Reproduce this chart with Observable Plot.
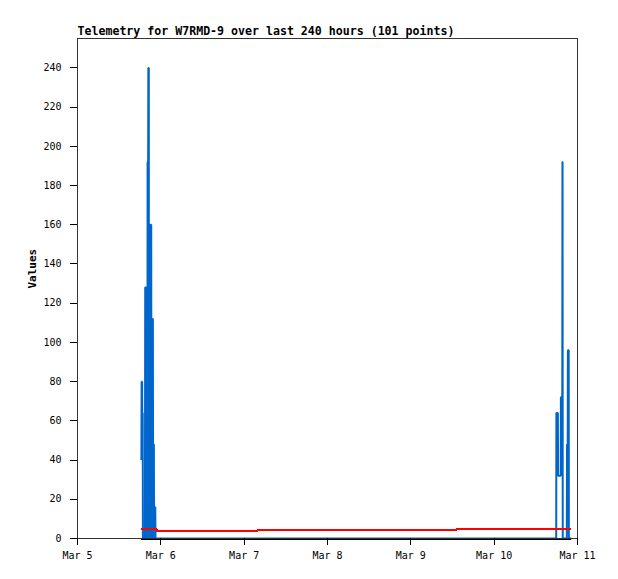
<!DOCTYPE html>
<html><head><meta charset="utf-8">
<script src="https://cdn.jsdelivr.net/npm/d3@7"></script>
<script src="https://cdn.jsdelivr.net/npm/@observablehq/plot@0.6"></script>
<style>
body{margin:0;background:#fff;}
#chart{width:618px;height:579px;}
#chart svg .crisp path, #chart svg .crisp line, #chart svg [aria-label="frame"], #chart svg [aria-label$="tick"] path {shape-rendering:crispEdges;}
</style></head><body><div id="chart"></div>
<script>
const title = "Telemetry for W7RMD-9 over last 240 hours (101 points)";
const yLabel = "Values";
const xDomain = ["2024-03-05T00:00Z", "2024-03-11T00:00Z"];
const xTickDates = ["2024-03-05T00:00Z","2024-03-06T00:00Z","2024-03-07T00:00Z","2024-03-08T00:00Z","2024-03-09T00:00Z","2024-03-10T00:00Z","2024-03-11T00:00Z"];
const yDomain = [0, 255];
const yTicks = [0,20,40,60,80,100,120,140,160,180,200,220,240];

// series 1 (blue)
const blueTimes = [
 "2024-03-05T18:24Z","2024-03-05T18:28Z","2024-03-05T18:37Z","2024-03-05T18:39Z","2024-03-05T18:47Z","2024-03-05T18:50Z",
 "2024-03-05T19:25Z","2024-03-05T19:30Z","2024-03-05T19:45Z","2024-03-05T19:50Z",
 "2024-03-05T20:08Z","2024-03-05T20:11Z","2024-03-05T20:21Z","2024-03-05T20:24Z","2024-03-05T20:32Z","2024-03-05T20:35Z",
 "2024-03-05T20:55Z","2024-03-05T20:58Z","2024-03-05T21:14Z","2024-03-05T21:17Z",
 "2024-03-05T21:22Z","2024-03-05T21:25Z","2024-03-05T21:43Z","2024-03-05T21:46Z",
 "2024-03-05T21:49Z","2024-03-05T22:00Z","2024-03-05T22:03Z",
 "2024-03-05T22:06Z","2024-03-05T22:24Z","2024-03-05T22:28Z",
 "2024-03-10T17:52Z","2024-03-10T17:55Z","2024-03-10T18:21Z","2024-03-10T18:24Z","2024-03-10T19:10Z","2024-03-10T19:13Z",
 "2024-03-10T19:37Z","2024-03-10T19:40Z","2024-03-10T19:42Z","2024-03-10T19:45Z",
 "2024-03-10T20:55Z","2024-03-10T20:59Z","2024-03-10T21:11Z","2024-03-10T21:14Z","2024-03-10T21:28Z","2024-03-10T21:31Z",
 "2024-03-10T22:16Z"
];
const blueValues = [
 40,80,80,64,64,0,
 0,128,128,0,
 0,192,192,240,240,0,
 0,160,160,0,
 0,112,112,0,
 48,48,0,
 16,16,0,
 0,64,64,32,32,72,
 72,192,192,0,
 0,48,48,96,96,0,
 0
];
// series 2 (red)
const redTimes = ["2024-03-05T18:14Z","2024-03-05T22:50Z","2024-03-05T22:59Z","2024-03-07T03:47Z","2024-03-07T03:54Z","2024-03-09T13:05Z","2024-03-09T13:13Z","2024-03-10T22:16Z"];
const redValues = [4.75,4.75,3.7,3.7,4.2,4.2,4.75,4.75];
// series 3 (black)
const blackTimes = ["2024-03-05T18:14Z","2024-03-10T22:16Z"];
const blackValues = [0,0];

const toRows = (ts, vs) => ts.map((t, i) => ({t: new Date(t), v: vs[i]}));
const blue = toRows(blueTimes, blueValues);
const red = toRows(redTimes, redValues);
const black = toRows(blackTimes, blackValues);

const mono = "DejaVu Sans Mono, monospace";
const chart = Plot.plot({
  width: 618,
  height: 579,
  marginLeft: 77,
  marginRight: 41,
  marginTop: 38,
  marginBottom: 41,
  style: {fontFamily: mono, fontSize: "10px", background: "#fff", color: "#000"},
  x: {type: "utc", domain: xDomain.map(d => new Date(d))},
  y: {domain: yDomain},
  marks: [
    Plot.line(blue, {x: "t", y: "v", stroke: "#0066cc", strokeWidth: 2, strokeLinecap: "butt", strokeLinejoin: "miter"}),
    Plot.line(red, {x: "t", y: "v", stroke: "#ff0000", strokeWidth: 2, strokeLinecap: "butt", className: "crisp"}),
    Plot.line(black, {x: "t", y: "v", stroke: "#000", strokeWidth: 2, strokeLinecap: "butt", className: "crisp"}),
    Plot.frame({stroke: "#333", strokeWidth: 1}),
    Plot.axisX({ticks: xTickDates.map(d => new Date(d)), tickFormat: d3.utcFormat("%b %-d"), tickSize: 7, tickPadding: 6, label: null, fontFamily: mono, fontSize: 10}),
    Plot.axisY({ticks: yTicks, tickSize: 7, tickPadding: 9, label: null, fontFamily: mono, fontSize: 10}),
    Plot.text([yLabel], {frameAnchor: "left", dx: -45, rotate: -90, fontWeight: "bold", fontSize: 11, fontFamily: mono}),
    Plot.text([title], {frameAnchor: "top-left", dy: -4, textAnchor: "start", lineAnchor: "bottom", fontWeight: "bold", fontSize: 11.6, fontFamily: mono})
  ]
});
document.getElementById("chart").appendChild(chart);
</script></body></html>
